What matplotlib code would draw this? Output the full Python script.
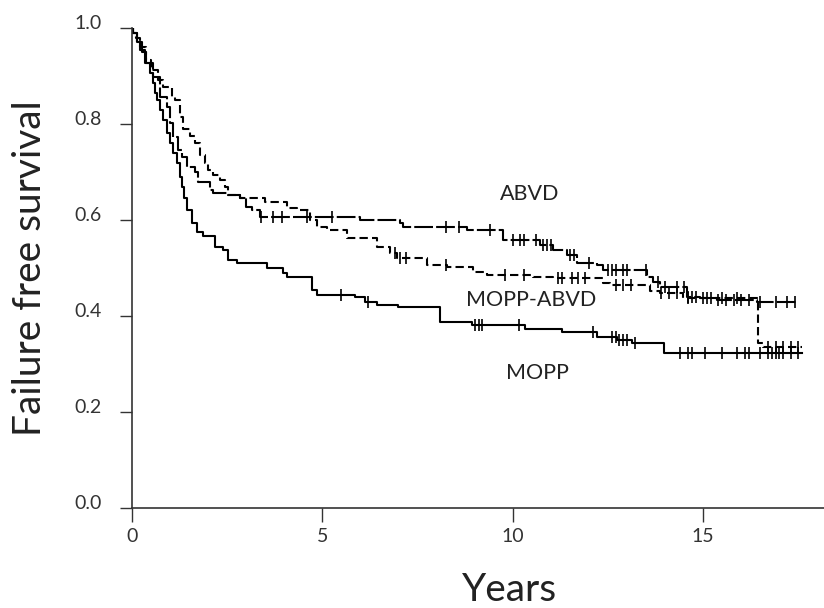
import matplotlib
matplotlib.use("Agg")
import matplotlib.pyplot as plt
import matplotlib.transforms as mtransforms
import numpy as np

plt.rcParams['font.family'] = ['Lato', 'DejaVu Sans']

# ---- data ----
mopp_t = [0, 0.03, 0.13, 0.21, 0.34, 0.47, 0.55, 0.60, 0.66, 0.74, 0.81, 0.92, 1.00, 1.08,
          1.18, 1.26, 1.31, 1.37, 1.44, 1.58, 1.71, 1.86, 2.18, 2.39, 2.52, 2.76, 3.55,
          3.97, 4.07, 4.73, 4.86, 5.86, 6.12, 6.43, 6.99, 8.09, 8.93, 10.32, 11.30,
          12.21, 12.74, 13.13, 13.97, 17.6]
mopp_s = [1.0, 0.99, 0.97, 0.954, 0.927, 0.906, 0.885, 0.864, 0.85, 0.829, 0.808, 0.781, 0.76,
          0.74, 0.719, 0.69, 0.669, 0.645, 0.621, 0.594, 0.575, 0.567, 0.544, 0.537, 0.517,
          0.51, 0.50, 0.49, 0.481, 0.454, 0.444, 0.44, 0.429, 0.423, 0.419, 0.3875, 0.381,
          0.373, 0.367, 0.356, 0.35, 0.344, 0.323, 0.323]
mopp_cens = [5.5, 6.2, 9.0, 9.1, 9.2, 10.15, 12.1, 12.6, 12.7, 12.8, 12.9, 13.0, 13.2,
             14.4, 14.6, 14.7, 15.05, 15.5, 15.9, 16.1, 16.2, 16.5, 16.7, 16.8, 16.9, 17.0,
             17.1, 17.3, 17.5]

abvd_t = [0, 0.03, 0.13, 0.25, 0.37, 0.55, 0.74, 0.92, 1.00, 1.08, 1.21, 1.31, 1.44, 1.65,
          1.74, 2.05, 2.13, 2.50, 2.84, 3.00, 3.15, 3.36, 5.99, 7.04, 7.12, 8.80, 9.74,
          10.71, 11.06, 11.42, 11.69, 12.21, 12.37, 13.52, 13.68, 13.87, 14.57, 14.92,
          15.36, 16.41, 17.5]
abvd_s = [1.0, 0.99, 0.97, 0.95, 0.927, 0.898, 0.856, 0.835, 0.802, 0.773, 0.746, 0.731,
          0.71, 0.70, 0.679, 0.6625, 0.656, 0.652, 0.646, 0.627, 0.621, 0.606, 0.60, 0.594,
          0.585, 0.579, 0.558, 0.548, 0.537, 0.527, 0.51, 0.506, 0.496, 0.481, 0.471, 0.46,
          0.44, 0.438, 0.433, 0.429, 0.429]
abvd_cens = [3.4, 3.7, 3.95, 4.6, 5.26, 8.25, 8.6, 9.4, 10.0, 10.2, 10.3, 10.6, 10.8, 10.9,
             11.0, 11.5, 11.6, 12.0, 12.5, 12.6, 12.7, 12.9, 13.0, 13.5, 13.8, 14.0, 14.3,
             14.5, 14.6, 14.7, 14.8, 15.0, 15.2, 15.4, 15.6, 15.8, 16.0, 16.2, 16.5, 16.9,
             17.2, 17.4]

mabvd_t = [0, 0.03, 0.10, 0.20, 0.37, 0.50, 0.68, 0.81, 1.05, 1.13, 1.26, 1.34, 1.52, 1.65,
           1.79, 1.92, 2.00, 2.13, 2.30, 2.45, 2.53, 2.84, 3.50, 4.08, 4.34, 4.67, 4.86,
           5.12, 5.65, 6.43, 6.78, 6.96, 7.75, 8.27, 8.95, 9.32, 10.53, 11.06, 12.37,
           12.55, 13.60, 13.87, 14.47, 16.44, 16.57, 17.6]
mabvd_s = [1.0, 0.99, 0.98, 0.96, 0.933, 0.913, 0.892, 0.877, 0.856, 0.85, 0.815, 0.79,
           0.775, 0.76, 0.735, 0.719, 0.704, 0.694, 0.683, 0.669, 0.652, 0.646, 0.6375,
           0.625, 0.621, 0.60, 0.585, 0.579, 0.562, 0.544, 0.531, 0.521, 0.506, 0.502,
           0.492, 0.485, 0.481, 0.479, 0.469, 0.465, 0.452, 0.448, 0.438, 0.344, 0.335,
           0.335]
mabvd_cens = [6.9, 7.05, 7.2, 8.25, 9.8, 10.3, 11.2, 11.3, 11.55, 11.7, 11.9, 12.7, 12.9,
              13.1, 13.9, 14.1, 14.3, 14.6, 15.1, 15.5, 15.9, 16.7, 16.9, 17.1, 17.3, 17.5]

group_labels = ["ABVD", "MOPP-ABVD", "MOPP"]
y_ticks = [0.0, 0.2, 0.4, 0.6, 0.8, 1.0]
x_ticks = [0, 5, 10, 15]

# ---- figure ----
fig = plt.figure(figsize=(8.24, 6.08), dpi=100)
ax = fig.add_axes([132 / 824, 100 / 608, 692 / 824, 480 / 608])


def km(t, s, cens, **kw):
    ax.step(t, s, where='post', color='black', lw=1.5, **kw)
    t_arr = np.asarray(t)
    s_arr = np.asarray(s)
    idx = np.searchsorted(t_arr, cens, side='right') - 1
    ax.plot(cens, s_arr[idx], ls='none', marker='|', ms=8, mew=1.2, color='black')


km(mopp_t, mopp_s, mopp_cens)
km(abvd_t, abvd_s, abvd_cens, dashes=(9, 1.5))
km(mabvd_t, mabvd_s, mabvd_cens, dashes=(4, 2))

ax.text(10.45, 0.654, group_labels[0], ha='center', va='center', fontsize=15.5,
        color='#222222')
ax.text(10.48, 0.433, group_labels[1], ha='center', va='center', fontsize=15.5,
        color='#222222')
ax.text(10.64, 0.281, group_labels[2], ha='center', va='center', fontsize=15.5,
        color='#222222')

ax.set_xlim(0, 692 / 38.08)
ax.set_ylim(0, 1.0)
ax.set_xticks(x_ticks)
ax.set_yticks(y_ticks)
ax.set_yticklabels([f"{v:.1f}" for v in y_ticks])
for sp in ['top', 'right']:
    ax.spines[sp].set_visible(False)
for sp in ['left', 'bottom']:
    ax.spines[sp].set_color('#333333')
    ax.spines[sp].set_linewidth(1.2)
ax.tick_params(axis='x', direction='out', length=10, width=1, colors='#333333',
               labelsize=14, pad=4.5, labelcolor='#333333')
ax.tick_params(axis='y', direction='out', length=8.6, width=1, colors='#333333',
               labelsize=14, pad=13, labelcolor='#333333')
shift = mtransforms.ScaledTranslation(0, 6 / 100, fig.dpi_scale_trans)
for lab in ax.get_yticklabels():
    lab.set_transform(lab.get_transform() + shift)

fig.text(30 / 824, 1 - 268 / 608, "Failure free survival", rotation=90,
         ha='center', va='center', fontsize=28, color='#222222')
fig.text(510 / 824, 1 - 590 / 608, "Years", ha='center', va='center', fontsize=28,
         color='#222222')

fig.savefig("out.png", dpi=100)
